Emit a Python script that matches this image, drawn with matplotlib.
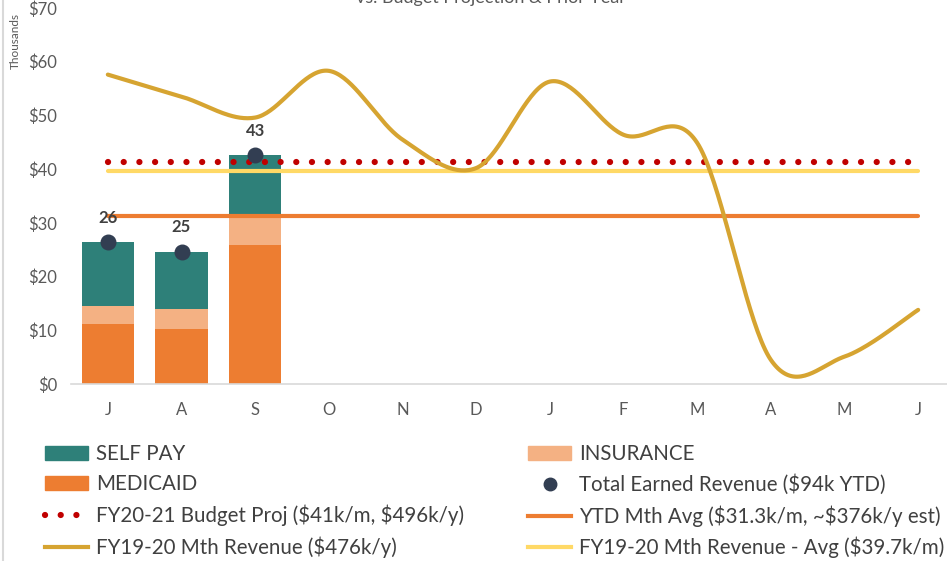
import numpy as np
import matplotlib.pyplot as plt
from matplotlib.lines import Line2D
from matplotlib.patches import Patch

plt.rcParams['font.family'] = ['Lato', 'DejaVu Sans']
plt.rcParams['text.parse_math'] = False

months = ["J", "A", "S", "O", "N", "D", "J", "F", "M", "A", "M", "J"]
medicaid = [11.2, 10.3, 25.8]
insurance = [3.4, 3.6, 5.8]
self_pay = [11.8, 10.7, 11.0]
total_earned = [26.4, 24.6, 42.6]
total_labels = ["26", "25", "43"]
fy1920 = [57.6, 53.5, 49.6, 58.3, 45.5, 40.2, 56.3, 46.4, 44.9, 4.5, 5.1, 13.8]
budget_proj = 41.3
ytd_avg = 31.3
fy1920_avg = 39.7

C_SELF = "#2E8079"
C_INS = "#F4B183"
C_MED = "#ED7D31"
C_DOT = "#323E52"
C_RED = "#C00000"
C_GOLD = "#D6A431"
C_YEL = "#FFD966"
C_TXT = "#595959"


def excel_smooth(y, n=40):
    # bezier smoothing like excel's "smoothed line"
    p = np.column_stack([np.arange(len(y)), y]).astype(float)
    pts = []
    for i in range(len(p) - 1):
        p0 = p[i - 1] if i > 0 else p[i]
        p3 = p[i + 2] if i + 2 < len(p) else p[i + 1]
        c1 = p[i] + (p[i + 1] - p0) / 6
        c2 = p[i + 1] - (p3 - p[i]) / 6
        t = np.linspace(0, 1, n)[:, None]
        seg = ((1 - t) ** 3 * p[i] + 3 * (1 - t) ** 2 * t * c1
               + 3 * (1 - t) * t ** 2 * c2 + t ** 3 * p[i + 1])
        pts.append(seg if i == 0 else seg[1:])
    s = np.vstack(pts)
    return s[:, 0], s[:, 1]


fig = plt.figure(figsize=(9.47, 5.61), dpi=100)
ax = fig.add_axes([71 / 947, 177 / 561, 884 / 947, 376 / 561])

x = np.arange(len(months))
xb = x[:len(medicaid)]
w = 0.71
ax.bar(xb, medicaid, w, color=C_MED, zorder=2)
ax.bar(xb, insurance, w, bottom=medicaid, color=C_INS, zorder=2)
bot2 = np.add(medicaid, insurance)
ax.bar(xb, self_pay, w, bottom=bot2, color=C_SELF, zorder=2)

ax.plot(x, np.full(len(x), fy1920_avg), color=C_YEL, lw=3, solid_capstyle='round', zorder=3)
ax.plot(x, np.full(len(x), ytd_avg), color=C_MED, lw=3, solid_capstyle='round', zorder=3)
ax.plot(x, np.full(len(x), budget_proj), color=C_RED, lw=4.5,
        linestyle=(0, (0.01, 2.5)), dash_capstyle='round', zorder=4)

sx, sy = excel_smooth(fy1920)
ax.plot(sx, sy, color=C_GOLD, lw=3, solid_capstyle='round', zorder=5)

ax.scatter(xb, total_earned, s=110, color=C_DOT, zorder=6)
for xi, yi, lab in zip(xb, total_earned, total_labels):
    ax.annotate(lab, (xi, yi), xytext=(0, 12), textcoords='offset points',
                ha='center', va='bottom', fontsize=12, fontweight='bold', color="#404040")

ax.set_xlim(-0.5, len(months) - 0.5)
ax.set_ylim(0, 70)
ax.set_xticks(x)
ax.set_xticklabels(months)
ax.set_yticks(np.arange(0, 71, 10))
ax.set_yticklabels([f"${v}" for v in range(0, 71, 10)])
ax.tick_params(length=0, labelsize=12, colors=C_TXT, pad=13)
ax.tick_params(axis='y', pad=10)
for s in ["top", "right", "left"]:
    ax.spines[s].set_visible(False)
ax.spines["bottom"].set_color("#D9D9D9")
ax.spines["bottom"].set_linewidth(1.2)

fig.text(15 / 947, 1 - 41 / 561, "Thousands", rotation=90, ha='center', va='center',
         fontsize=8.5, color=C_TXT)
fig.text(491 / 947, 1 - 3 / 561, "vs. Budget Projection & Prior Year", ha='center',
         va='baseline', fontsize=13, color=C_TXT)
fig.add_artist(Line2D([3 / 947, 3 / 947], [0, 1], color="#D9D9D9", lw=1.5))

h_self = Patch(color=C_SELF, label="SELF PAY")
h_ins = Patch(color=C_INS, label="INSURANCE")
h_med = Patch(color=C_MED, label="MEDICAID")
h_dot = Line2D([], [], marker='o', ls='none', color=C_DOT, markersize=9,
               label="Total Earned Revenue ($94k YTD)")
h_bud = Line2D([], [], color=C_RED, lw=4.5, linestyle=(0, (0.01, 2.5)), dash_capstyle='round',
               label="FY20-21 Budget Proj ($41k/m, $496k/y)")
h_ytd = Line2D([], [], color=C_MED, lw=3, label="YTD Mth Avg ($31.3k/m, ~$376k/y est)")
h_gold = Line2D([], [], color=C_GOLD, lw=3, label="FY19-20 Mth Revenue ($476k/y)")
h_yel = Line2D([], [], color=C_YEL, lw=3, label="FY19-20 Mth Revenue - Avg ($39.7k/m)")

leg_kw = dict(frameon=False, fontsize=14.8, labelcolor="#404040", handlelength=2.1,
              handletextpad=0.4, labelspacing=0.5, borderaxespad=0, borderpad=0)
fig.legend(handles=[h_self, h_med, h_bud, h_gold], loc='upper left',
           bbox_to_anchor=(45 / 947, 1 - 444 / 561), **leg_kw)
fig.legend(handles=[h_ins, h_dot, h_ytd, h_yel], loc='upper left',
           bbox_to_anchor=(528 / 947, 1 - 444 / 561), **leg_kw)

fig.savefig("out.png", dpi=100)
